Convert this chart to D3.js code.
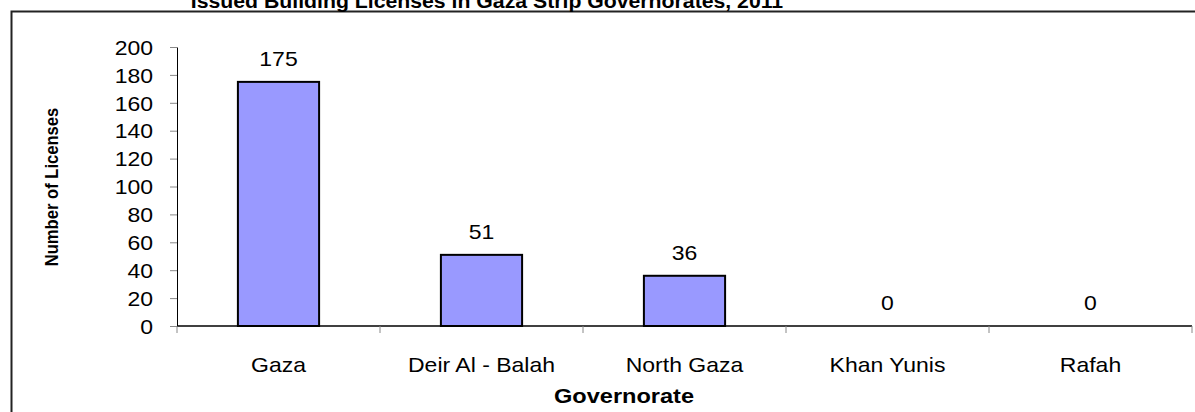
<!doctype html>
<html lang="en">
    <head>
        <meta charset="utf-8">
        <title>Issued Building Licenses in Gaza Strip Governorates, 2011</title>
        <script src="https://d3js.org/d3.v7.min.js"></script>
        <style>
            body { margin: 0; background: white; }
            svg { display: block; font-family: "Liberation Sans", Arial, sans-serif; }
        </style>
    </head>
    <body>
        <div id="chart"></div>

<script>

//chart data
var governorates = ["Gaza", "Deir Al - Balah", "North Gaza", "Khan Yunis", "Rafah"];
var licenses = [175, 51, 36, 0, 0];
var yTicks = [0, 20, 40, 60, 80, 100, 120, 140, 160, 180, 200];

var width = 1195;
var height = 412;

//plot area (names avoid window.top)
var plotLeft = 177, plotRight = 1192, plotTop = 47, plotBottom = 326;

//the original picture is stretched sideways, so text is too
var sx = 1.15;

var svg = d3.select("#chart").append("svg")
    .attr("width", width)
    .attr("height", height);

//outer frame of the chart (runs past the window on the right and bottom)
svg.append("rect")
    .attr("x", 11.5).attr("y", 11.5)
    .attr("width", 1300).attr("height", 500)
    .attr("fill", "white")
    .attr("stroke", "#222")
    .attr("stroke-width", 2);

//put a stretched text at x, y
function addText(x, y, str, size, bold, anchor, rotate, stretch) {
    var s = stretch || sx;
    var t = svg.append("text")
        .attr("transform", "translate(" + x + "," + y + ") scale(" + s + ",1)" + (rotate ? " rotate(" + rotate + ")" : ""))
        .attr("text-anchor", anchor || "middle")
        .style("font-size", size + "px")
        .text(str);
    if (bold) t.style("font-weight", "bold");
    return t;
}

//title, partly cut off at the top
addText(487, 8, "Issued Building Licenses  in Gaza Strip Governorates, 2011", 19.5, true, "middle", 0, 1.09);

var x = d3.scaleBand()
    .domain(governorates)
    .range([plotLeft, plotRight])
    .paddingInner(0.6)
    .paddingOuter(0.3);

var y = d3.scaleLinear()
    .domain([0, 200])
    .range([plotBottom, plotTop]);

//y axis
var yAxis = svg.append("g")
    .attr("transform", "translate(" + plotLeft + ",0)")
    .call(d3.axisLeft(y).tickValues(yTicks).tickSize(7).tickSizeOuter(0));
yAxis.select(".domain").attr("stroke", "#000");
yAxis.selectAll(".tick line").attr("stroke", "#888");
yAxis.selectAll(".tick text")
    .attr("x", 0)
    .attr("transform", "translate(-24,0) scale(" + sx + ",1)")
    .attr("fill", "#000")
    .style("font-size", "20px")
    .attr("dy", "0.36em");

//bars
svg.selectAll(".bar")
    .data(licenses)
    .enter().append("rect")
    .attr("class", "bar")
    .attr("x", function(d, i) { return x(governorates[i]); })
    .attr("y", function(d) { return y(d); })
    .attr("width", x.bandwidth())
    .attr("height", function(d) { return plotBottom - y(d); })
    .attr("fill", "#9999ff")
    .attr("stroke", "#000")
    .attr("stroke-width", 2);

//value labels
licenses.forEach(function(d, i) {
    addText(x(governorates[i]) + x.bandwidth() / 2, y(d) - 16, d, 20);
});

//x axis line and category boundary ticks
svg.append("line")
    .attr("x1", plotLeft).attr("x2", plotRight)
    .attr("y1", plotBottom).attr("y2", plotBottom)
    .attr("stroke", "#000")
    .attr("stroke-width", 1.5);

var step = x.step();
svg.selectAll(".xtick")
    .data(d3.range(governorates.length + 1))
    .enter().append("line")
    .attr("class", "xtick")
    .attr("x1", function(i) { return plotLeft + i * step; })
    .attr("x2", function(i) { return plotLeft + i * step; })
    .attr("y1", plotBottom).attr("y2", plotBottom + 7)
    .attr("stroke", "#888");

//category labels
governorates.forEach(function(g) {
    addText(x(g) + x.bandwidth() / 2, 372, g, 20);
});

//axis titles
addText(624, 403, "Governorate", 20.5, true);
addText(58, 187, "Number of Licenses", 16.6, true, "middle", -90);

</script>
    </body>
</html>
